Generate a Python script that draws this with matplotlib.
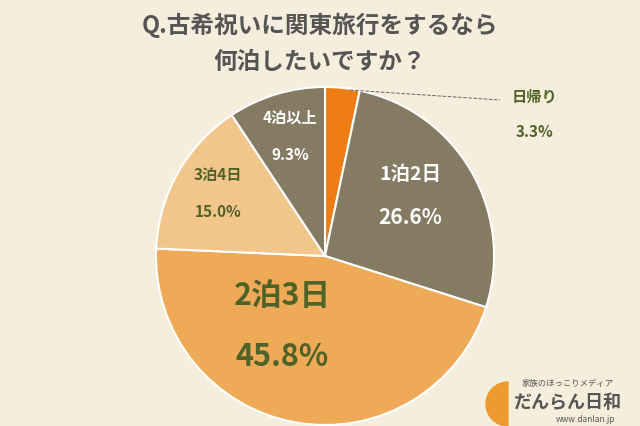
import matplotlib.pyplot as plt
from matplotlib.patches import Wedge

plt.rcParams['font.family'] = 'Noto Sans CJK JP'

labels = ['日帰り', '1泊2日', '2泊3日', '3泊4日', '4泊以上']
values = [3.3, 26.6, 45.8, 15.0, 9.3]
colors = ['#EE7D14', '#857A62', '#EFAA58', '#F2C58A', '#857A62']

BG = '#F6EEDD'
OLIVE = '#4F6228'

fig = plt.figure(figsize=(6.4, 4.26), dpi=100, facecolor=BG)

# pie axes first, overlay axes for text on top
cx, cy, r = 325, 256, 169
pax = fig.add_axes([(cx - r) / 640, (426 - cy - r) / 426, 2 * r / 640, 2 * r / 426])
pax.pie(values, colors=colors, startangle=90, counterclock=False,
        wedgeprops=dict(edgecolor='white', linewidth=1.5))
pax.set_aspect('auto')
pax.set_xlim(-1, 1)
pax.set_ylim(-1, 1)

ax = fig.add_axes([0.0, 0.0, 1.0, 1.0])
ax.patch.set_alpha(0)
ax.set_xlim(0, 640)
ax.set_ylim(426, 0)
ax.axis('off')

fig.text(0.5, 0.94, 'Q.古希祝いに関東旅行をするなら', ha='center', va='center',
         fontsize=17, fontweight='bold', color='#555555')
fig.text(0.5, 0.855, '何泊したいですか？', ha='center', va='center',
         fontsize=17, fontweight='bold', color='#555555')

# label annotations
ax.plot([350, 500], [90, 100], color='#666666', lw=0.7, ls='--')
ax.text(535, 97, labels[0], ha='center', va='center', fontsize=11, fontweight='bold', color=OLIVE)
ax.text(535, 132, f'{values[0]}%', ha='center', va='center', fontsize=11, fontweight='bold', color=OLIVE)

ax.text(410, 175, labels[1], ha='center', va='center', fontsize=14, fontweight='bold', color='white')
ax.text(410, 218, f'{values[1]}%', ha='center', va='center', fontsize=15, fontweight='bold', color='white')

ax.text(282, 296, labels[2], ha='center', va='center', fontsize=22, fontweight='bold', color=OLIVE)
ax.text(282, 357, f'{values[2]}%', ha='center', va='center', fontsize=22, fontweight='bold', color=OLIVE)

ax.text(218, 175, labels[3], ha='center', va='center', fontsize=11, fontweight='bold', color=OLIVE)
ax.text(218, 212, f'{values[3]}%', ha='center', va='center', fontsize=11, fontweight='bold', color=OLIVE)

ax.text(290, 118, labels[4], ha='center', va='center', fontsize=11, fontweight='bold', color='white')
ax.text(290, 155, f'{values[4]}%', ha='center', va='center', fontsize=11, fontweight='bold', color='white')

# logo
ax.add_patch(Wedge((508, 404), 22, 90, 270, color='#EE9A2E'))
ax.text(568, 383, '家族のほっこりメディア', ha='center', va='center', fontsize=6, color='#555555')
ax.text(568, 402, 'だんらん日和', ha='center', va='center', fontsize=13, fontweight='bold', color='#555555')
ax.text(585, 419, 'www.danlan.jp', ha='center', va='center', fontsize=6, color='#555555')

fig.savefig('out.png', dpi=100, facecolor=BG)
